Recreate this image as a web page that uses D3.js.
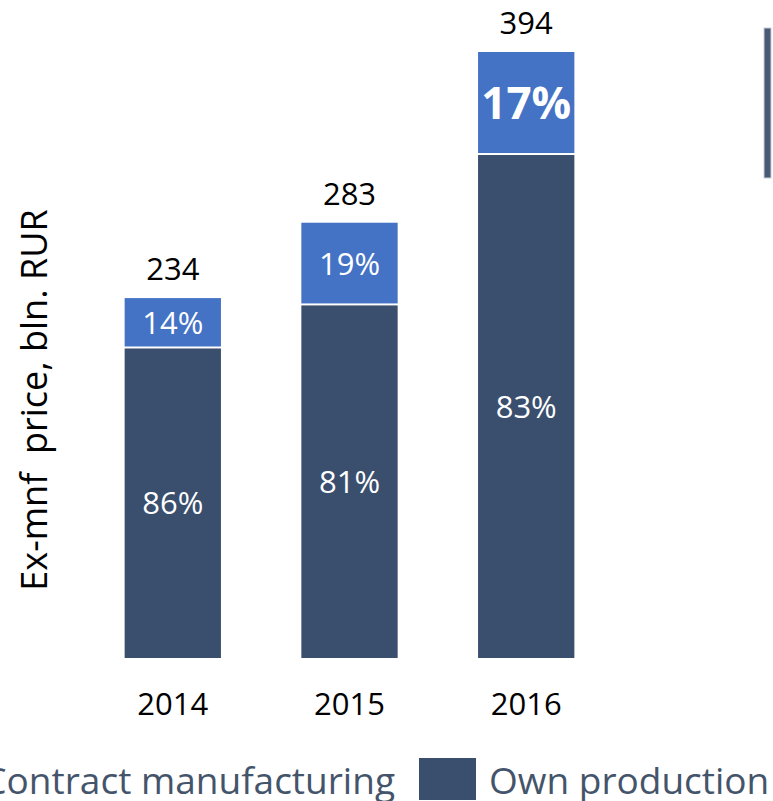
<!DOCTYPE html>
<html>
<head>
<meta charset="utf-8">
<script src="https://cdn.jsdelivr.net/npm/d3@7"></script>
<style>
  body { margin: 0; background: #fff; overflow: hidden; }
  text { font-family: "Open Sans", "Noto Sans", sans-serif; }
</style>
</head>
<body>
<script>
// data
var years = ['2014', '2015', '2016'];
var totals = [234, 283, 394];
var ownShare = [86, 81, 83];
var contractShare = [14, 19, 17];

var W = 773, H = 801;
var svg = d3.select('body').append('svg')
    .attr('width', W)
    .attr('height', H);

var x = d3.scaleBand()
    .domain(years)
    .range([84, 615])
    .paddingInner(0.455)
    .paddingOuter(0.23);

var y = d3.scaleLinear()
    .domain([0, 394])
    .range([658, 52]);

var dark = '#3a4e6e', light = '#4472c4';

var g = svg.append('g');
years.forEach(function(yr, i){
    var own = totals[i] * ownShare[i] / 100;
    var bx = x(yr), bw = x.bandwidth();
    // own production
    g.append('rect')
        .attr('x', bx).attr('width', bw)
        .attr('y', y(own)).attr('height', y(0) - y(own))
        .attr('fill', dark);
    // contract
    g.append('rect')
        .attr('x', bx).attr('width', bw)
        .attr('y', y(totals[i])).attr('height', y(own) - y(totals[i]) - 2)
        .attr('fill', light);

    var cx = bx + bw / 2;
    g.append('text')
        .attr('x', cx).attr('y', (y(own) + y(0)) / 2)
        .attr('dy', '0.36em')
        .attr('text-anchor', 'middle')
        .attr('fill', '#fff').attr('font-size', 31)
        .text(ownShare[i] + '%');
    var big = i === 2;
    g.append('text')
        .attr('x', cx).attr('y', (y(own) + y(totals[i])) / 2)
        .attr('dy', '0.36em')
        .attr('text-anchor', 'middle')
        .attr('fill', '#fff')
        .attr('font-size', big ? 44 : 31)
        .attr('font-weight', big ? 'bold' : 'normal')
        .text(contractShare[i] + '%');
    // total
    g.append('text')
        .attr('x', cx).attr('y', y(totals[i]) - 18)
        .attr('text-anchor', 'middle')
        .attr('fill', '#000').attr('font-size', 31)
        .text(totals[i]);
});

// x axis labels
var xAxis = svg.append('g')
    .attr('transform', 'translate(0,' + 658 + ')')
    .call(d3.axisBottom(x).tickSize(0).tickPadding(35));
xAxis.select('.domain').remove();
xAxis.selectAll('text')
    .attr('font-size', 31)
    .attr('fill', '#000')
    .style('font-family', '"Open Sans", sans-serif');

// y title
svg.append('text')
    .attr('transform', 'translate(47,400) rotate(-90)')
    .attr('text-anchor', 'middle')
    .attr('fill', '#000')
    .attr('font-size', 36)
    .attr('xml:space', 'preserve')
    .style('white-space', 'pre')
    .text('Ex-mnf  price, bln. RUR');

// right-side bar fragment
svg.append('rect')
    .attr('x', 764).attr('y', 28)
    .attr('width', 7).attr('height', 150)
    .attr('fill', '#4a5a75')
    .attr('stroke', '#c9ced6').attr('stroke-width', 1);

// legend
var leg = svg.append('g');
leg.append('rect')
    .attr('x', -60).attr('y', 758).attr('width', 57).attr('height', 42)
    .attr('fill', light);
leg.append('text')
    .attr('x', 395).attr('y', 794)
    .attr('text-anchor', 'end')
    .attr('fill', '#44546a').attr('font-size', 37)
    .text('Contract manufacturing');
leg.append('rect')
    .attr('x', 419).attr('y', 758).attr('width', 57).attr('height', 42)
    .attr('fill', dark);
leg.append('text')
    .attr('x', 489).attr('y', 794)
    .attr('fill', '#44546a').attr('font-size', 37)
    .text('Own production');
</script>
</body>
</html>
